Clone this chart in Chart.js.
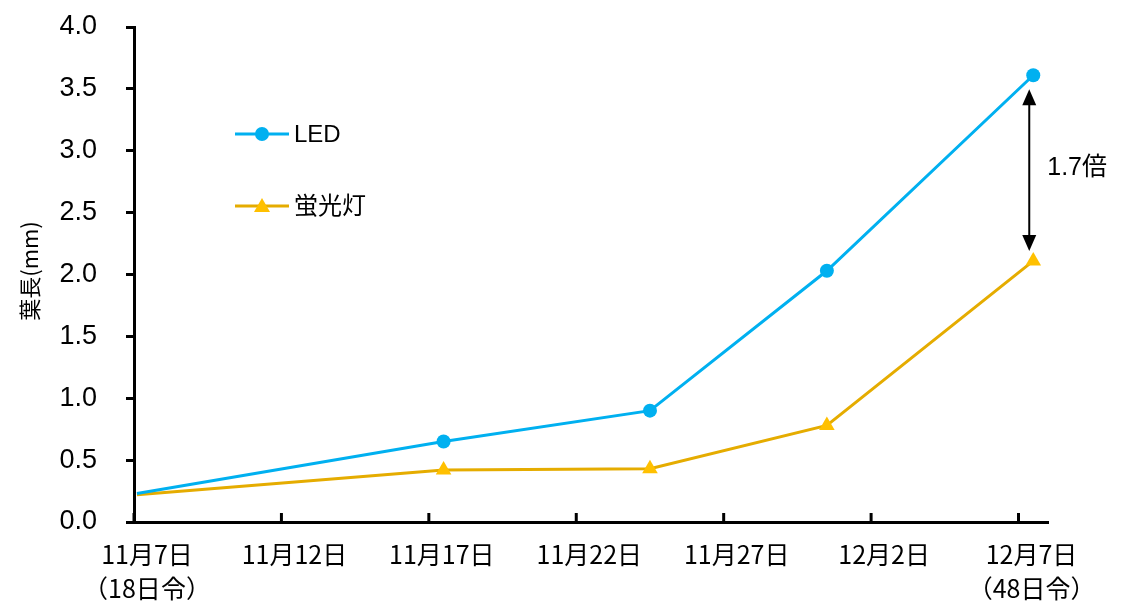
<!DOCTYPE html>
<html>
<head>
<meta charset="utf-8">
<script src="https://cdn.jsdelivr.net/npm/chart.js@4"></script>
<style>
    body { margin: 0; background: #ffffff; }
    #wrap { width: 1121px; height: 601px; position: relative; }
</style>
</head>
<body>
<div id="wrap"><canvas id="leafChart"></canvas></div>
<script>
"use strict";

// days since 11/7
const dayOffsets = [0.1, 10.5, 17.5, 23.5, 30.5];
const ledValues = [0.23, 0.65, 0.90, 2.03, 3.61];
const fluoValues = [0.22, 0.42, 0.43, 0.78, 2.11];
const seriesNames = ["LED", "蛍光灯"];
const tickLabels = ["11月7日", "11月12日", "11月17日", "11月22日", "11月27日", "12月2日", "12月7日"];
const tickSubLabels = ["（18日令）", "", "", "", "", "", "（48日令）"];
const ratioLabel = "1.7倍";
const yTitle = "葉長(mm)";

const LED_COLOR = "#00B0F0";
const FLUO_LINE = "#E5AC00";
const FLUO_MARK = "#FFC000";

const toPoints = values =>
    values.map(
        (v, i) => ({ x: dayOffsets[i], y: v })
    );

const decorPlugin = {

    id: "decor",

    afterDraw(chart) {

        const ctx = chart.ctx;
        const xs = chart.scales.x;
        const ys = chart.scales.y;
        const bottom = chart.chartArea.bottom;

        ctx.save();

        // x ticks pointing inward
        ctx.strokeStyle = "#000";
        ctx.lineWidth = 3;
        xs.ticks.forEach(t => {
            const px = xs.getPixelForValue(t.value);
            ctx.beginPath();
            ctx.moveTo(px, bottom);
            ctx.lineTo(px, bottom - 9);
            ctx.stroke();
        });

        // legend
        const items = [
            { y: 134, line: LED_COLOR, mark: LED_COLOR, style: "circle" },
            { y: 206, line: FLUO_LINE, mark: FLUO_MARK, style: "triangle" }
        ];
        items.forEach((it, i) => {
            ctx.strokeStyle = it.line;
            ctx.lineWidth = 3;
            ctx.beginPath();
            ctx.moveTo(235, it.y);
            ctx.lineTo(289, it.y);
            ctx.stroke();
            ctx.fillStyle = it.mark;
            ctx.beginPath();
            if (it.style === "circle") {
                ctx.arc(262, it.y, 7, 0, Math.PI * 2);
            } else {
                ctx.moveTo(262, it.y - 8);
                ctx.lineTo(270, it.y + 6);
                ctx.lineTo(254, it.y + 6);
                ctx.closePath();
            }
            ctx.fill();
            ctx.fillStyle = "#000";
            ctx.font = "24px 'Liberation Sans', 'Noto Sans CJK JP', sans-serif";
            ctx.textAlign = "left";
            ctx.textBaseline = "middle";
            ctx.fillText(seriesNames[i], 294, it.y + 1);
        });

        // ratio arrow
        const last = dayOffsets.length - 1;
        const ax = xs.getPixelForValue(dayOffsets[last]) - 4;
        const y1 = ys.getPixelForValue(ledValues[last]) + 14;
        const y2 = ys.getPixelForValue(fluoValues[last]) - 10;
        ctx.strokeStyle = "#000";
        ctx.fillStyle = "#000";
        ctx.lineWidth = 2;
        ctx.beginPath();
        ctx.moveTo(ax, y1 + 10);
        ctx.lineTo(ax, y2 - 10);
        ctx.stroke();
        ctx.beginPath();
        ctx.moveTo(ax, y1);
        ctx.lineTo(ax + 7, y1 + 16);
        ctx.lineTo(ax - 7, y1 + 16);
        ctx.closePath();
        ctx.fill();
        ctx.beginPath();
        ctx.moveTo(ax, y2);
        ctx.lineTo(ax + 7, y2 - 16);
        ctx.lineTo(ax - 7, y2 - 16);
        ctx.closePath();
        ctx.fill();
        ctx.font = "25px 'Liberation Sans', 'Noto Sans CJK JP', sans-serif";
        ctx.textAlign = "left";
        ctx.textBaseline = "middle";
        ctx.fillText(ratioLabel, ax + 18, (y1 + y2) / 2 - 2);

        // y title
        ctx.translate(30, 271);
        ctx.rotate(-Math.PI / 2);
        ctx.textAlign = "center";
        ctx.font = "22px 'Noto Sans CJK JP', sans-serif";
        ctx.fillText(yTitle, 0, 0);

        ctx.restore();
    }
};

document.addEventListener("DOMContentLoaded", () => {

    new Chart(
        document.getElementById("leafChart"),
        {
            type: "line",
            data: {
                datasets: [
                    {
                        label: seriesNames[0],
                        data: toPoints(ledValues),
                        borderColor: LED_COLOR,
                        backgroundColor: LED_COLOR,
                        borderWidth: 3,
                        pointStyle: "circle",
                        pointRadius: [0, 7, 7, 7, 7],
                        pointBorderWidth: 0,
                        tension: 0
                    },
                    {
                        label: seriesNames[1],
                        data: toPoints(fluoValues),
                        borderColor: FLUO_LINE,
                        backgroundColor: FLUO_MARK,
                        pointBorderColor: FLUO_MARK,
                        borderWidth: 3,
                        pointStyle: "triangle",
                        pointRadius: [0, 9, 9, 9, 9],
                        pointBorderWidth: 0,
                        tension: 0
                    }
                ]
            },
            options: {
                responsive: true,
                maintainAspectRatio: false,
                animation: false,
                clip: false,
                layout: {
                    padding: { top: 27, right: 73, bottom: 0, left: 0 }
                },
                plugins: {
                    legend: { display: false },
                    tooltip: { enabled: false }
                },
                scales: {
                    x: {
                        type: "linear",
                        min: 0,
                        max: 31,
                        afterFit: s => {
                            s.height = 79;
                            s.paddingLeft = 0;
                            s.paddingRight = 0;
                        },
                        grid: { display: false },
                        border: { display: true, color: "#000", width: 3 },
                        ticks: {
                            stepSize: 5,
                            includeBounds: false,
                            autoSkip: false,
                            maxRotation: 0,
                            padding: 8,
                            labelOffset: 13,
                            color: "#000",
                            font: { family: "'Noto Sans CJK JP', sans-serif", size: 25, lineHeight: 1.35 },
                            callback: v => {
                                const i = Math.round(v / 5);
                                return tickSubLabels[i]
                                    ? [tickLabels[i], tickSubLabels[i]]
                                    : tickLabels[i];
                            }
                        }
                    },
                    y: {
                        min: 0,
                        max: 4,
                        afterFit: s => {
                            s.width = 134;
                            s.paddingTop = 0;
                            s.paddingBottom = 0;
                        },
                        grid: {
                            drawOnChartArea: false,
                            color: "#000",
                            lineWidth: 3,
                            tickLength: 8
                        },
                        border: { display: true, color: "#000", width: 3 },
                        ticks: {
                            stepSize: 0.5,
                            padding: 29,
                            color: "#000",
                            font: { family: "'Liberation Sans', sans-serif", size: 27 },
                            callback: v => v.toFixed(1)
                        }
                    }
                }
            },
            plugins: [decorPlugin]
        }
    );
});
</script>
</body>
</html>
